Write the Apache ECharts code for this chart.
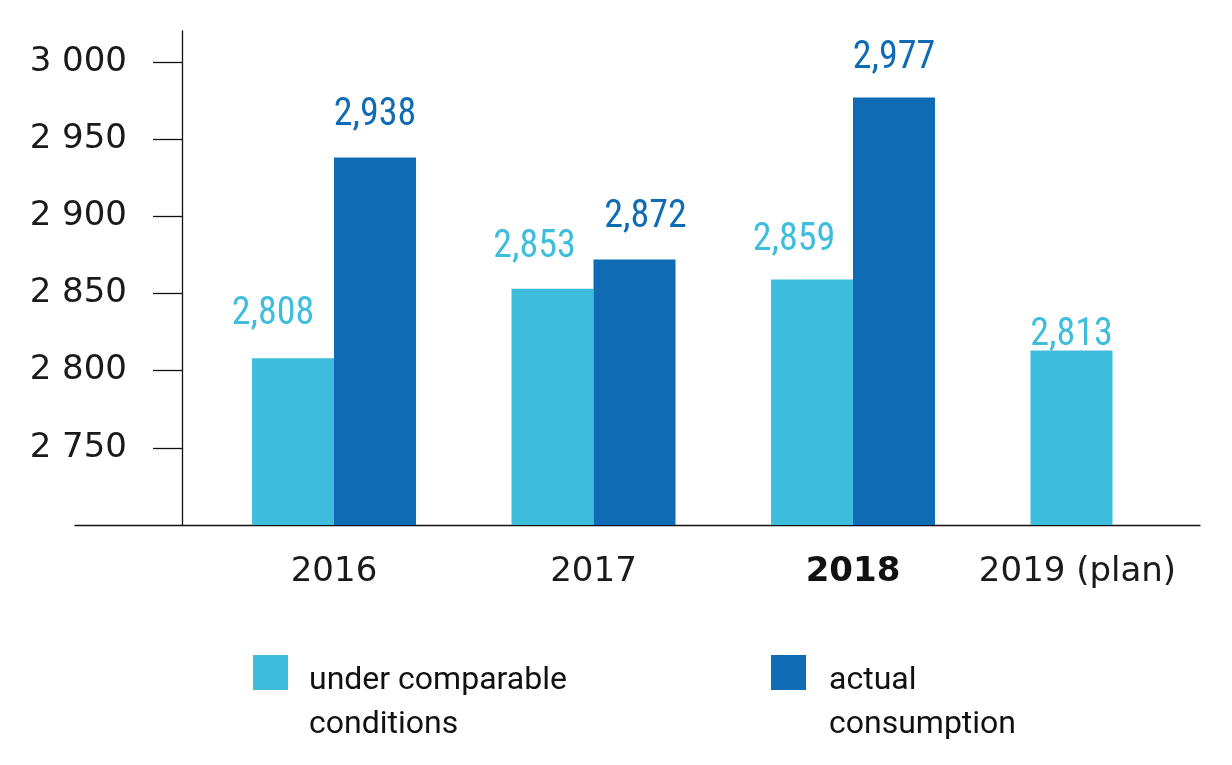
<!DOCTYPE html>
<html>
<head>
<meta charset="utf-8">
<script src="https://cdn.jsdelivr.net/npm/echarts@6/dist/echarts.min.js"></script>
<style>
html,body{margin:0;padding:0;background:#fff;}
#chart{width:1232px;height:765px;}
</style>
</head>
<body>
<div id="chart"></div>
<script>
const categories = ['2016', '2017', '2018', '2019 (plan)'];
const comparable = [2808, 2853, 2859, 2813];
const actual = [2938, 2872, 2977, null];
const yTickValues = [2750, 2800, 2850, 2900, 2950, 3000];
const yTickLabels = ['2 750', '2 800', '2 850', '2 900', '2 950', '3 000'];
const seriesNames = ['under comparable\nconditions', 'actual\nconsumption'];

// label placement tweaks (style only)
const lightLabelOffsets = [[-20, -3], [-18, 0], [-18, 2], [0, 26]];
const darkLabelOffsets = [[0, -1], [11, -1], [0, 2], [0, 0]];

const LIGHT = '#3ebddd';
const DARK = '#0f6bb3';
const condFont = "'Liberation Sans Narrow', 'Roboto Condensed', Roboto, sans-serif";
const axisFont = "'DejaVu Sans', sans-serif";
const legendFont = "Roboto, sans-serif";

const chart = echarts.init(document.getElementById('chart'));

const fmt = v => v == null ? '' : Number(v).toLocaleString('en-US');

const withOffsets = (vals, offs) => vals.map((v, i) => ({value: v, label: {offset: offs[i]}}));

const legendText = name => '{s| }\n' + name.split('\n').map(l => '{t|' + l + '}').join('\n');
const legendStyle = {
  fontFamily: legendFont, fontSize: 32, color: '#111', padding: [0, 0, 0, 16],
  rich: {
    s: {fontFamily: legendFont, fontSize: 32, lineHeight: 60, height: 60},
    t: {fontFamily: legendFont, fontSize: 32, lineHeight: 44, color: '#111'}
  }
};

chart.setOption({
  backgroundColor: '#fff',
  animation: false,
  grid: [
    {left: 204.25, width: 1038, top: 31, bottom: 240, outerBoundsMode: 'none', containLabel: false},
    {left: 75, right: 32, top: 31, bottom: 240, outerBoundsMode: 'none', containLabel: false}
  ],
  legend: [
    {
      data: [seriesNames[0]],
      left: 253, top: 598.5, padding: 0,
      icon: 'rect', itemWidth: 35, itemHeight: 35,
      selectedMode: false,
      formatter: legendText,
      textStyle: legendStyle
    },
    {
      data: [seriesNames[1]],
      left: 771, top: 598.5, padding: 0,
      icon: 'rect', itemWidth: 35, itemHeight: 35,
      selectedMode: false,
      formatter: legendText,
      textStyle: Object.assign({}, legendStyle, {padding: [0, 0, 0, 18]})
    }
  ],
  xAxis: [
    {
      type: 'category', gridIndex: 0, data: categories,
      axisLine: {show: false}, axisTick: {show: false},
      axisLabel: {
        interval: 0, hideOverlap: false,
        margin: 30,
        fontFamily: axisFont, fontSize: 34, color: '#1a1a1a',
        formatter: (v, i) => i === 2 ? '{b|' + v + '}' : (i === 3 ? '{p|' + v + '}' : v),
        rich: {
          b: {fontFamily: axisFont, fontSize: 34, fontWeight: 'bold', color: '#111'},
          p: {fontFamily: axisFont, fontSize: 34, color: '#1a1a1a', padding: [0, 70, 0, 0]}
        }
      }
    },
    {
      type: 'value', gridIndex: 1, min: 0, max: 1,
      axisLine: {show: true, onZero: false, lineStyle: {color: '#111', width: 1.3}},
      axisTick: {show: false}, axisLabel: {show: false}, splitLine: {show: false}
    }
  ],
  yAxis: [
    {
      type: 'value', gridIndex: 0, min: 2700, max: 3020,
      offset: 22.25,
      axisLine: {show: true, lineStyle: {color: '#111', width: 1.3}},
      axisTick: {show: true, length: 29, customValues: yTickValues, lineStyle: {color: '#111', width: 1.3}},
      axisLabel: {
        customValues: yTickValues,
        margin: 55,
        fontFamily: axisFont, fontSize: 34, color: '#1a1a1a',
        formatter: v => { const k = yTickValues.indexOf(v); return k >= 0 ? yTickLabels[k] : ''; }
      },
      splitLine: {show: false}
    },
    {type: 'value', gridIndex: 1, show: false, min: 0, max: 1}
  ],
  series: [
    {
      name: seriesNames[0], type: 'bar', xAxisIndex: 0, yAxisIndex: 0,
      data: withOffsets(comparable, lightLabelOffsets), barWidth: 82, barGap: '0%',
      itemStyle: {color: LIGHT},
      label: {show: true, position: 'top', distance: 22, color: LIGHT, fontFamily: condFont, fontSize: 38, formatter: p => fmt(p.value)}
    },
    {
      name: seriesNames[1], type: 'bar', xAxisIndex: 0, yAxisIndex: 0,
      data: withOffsets(actual, darkLabelOffsets), barWidth: 82, barGap: '0%',
      itemStyle: {color: DARK},
      label: {show: true, position: 'top', distance: 22, color: DARK, fontFamily: condFont, fontSize: 38, formatter: p => fmt(p.value)}
    }
  ]
});
</script>
</body>
</html>
